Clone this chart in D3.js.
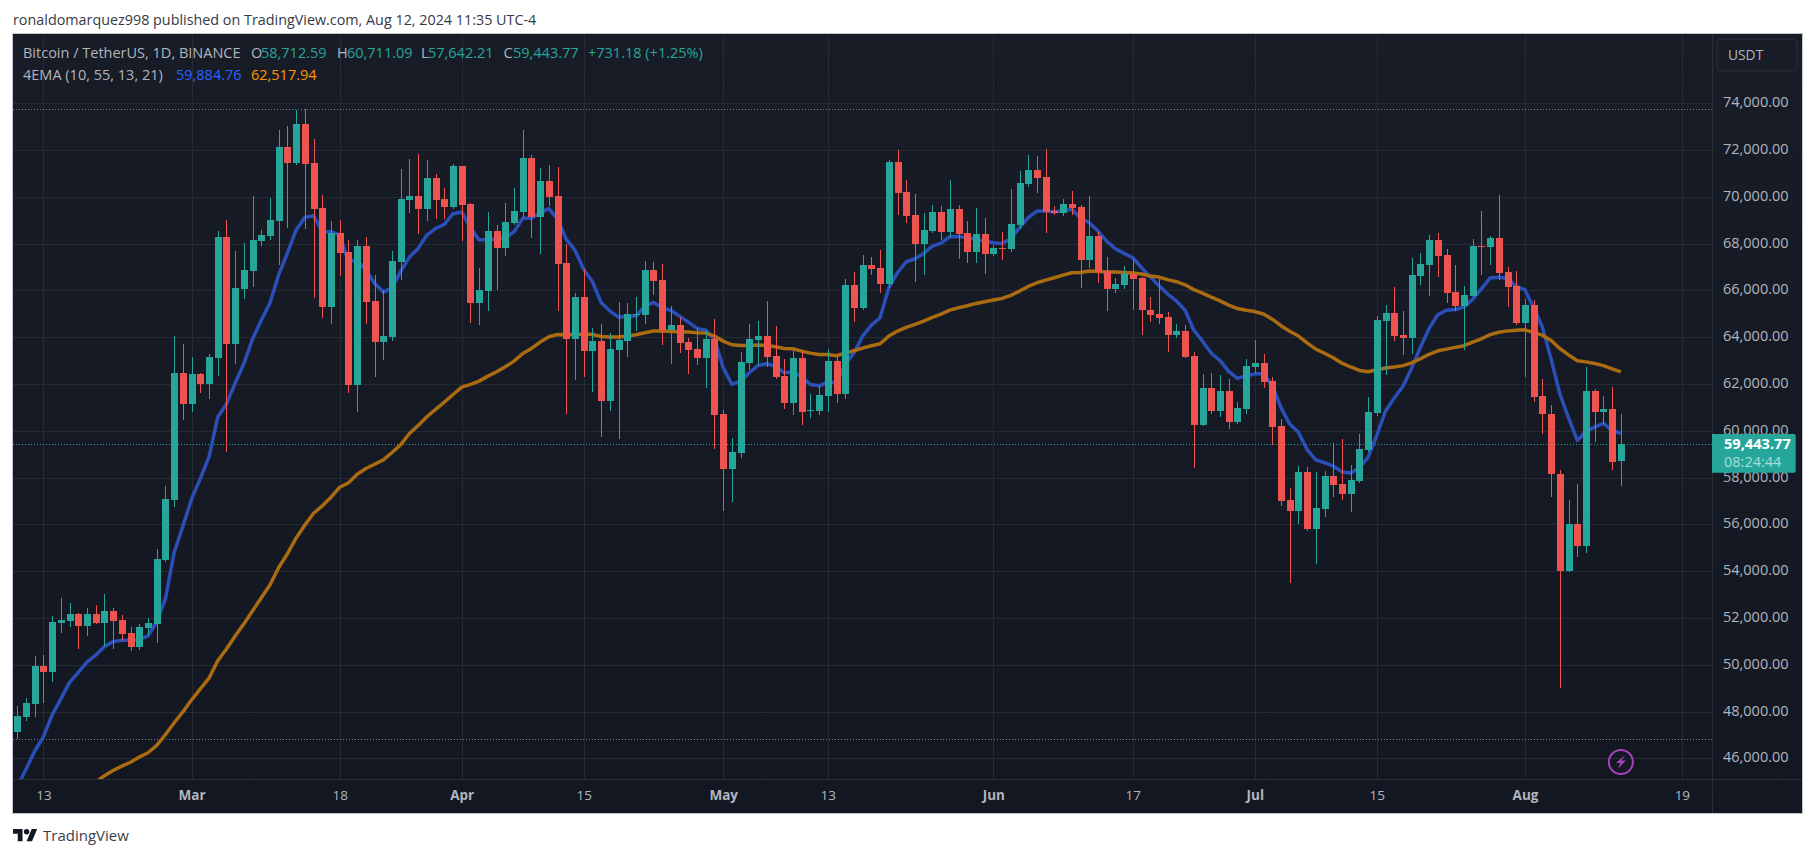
<!DOCTYPE html>
<html><head><meta charset="utf-8">
<style>
html,body{margin:0;padding:0;background:#fff;overflow:hidden}
svg{display:block}
text{font-family:"Open Sans",Lato,sans-serif}
</style>
<script src="https://cdn.jsdelivr.net/npm/d3@7/dist/d3.min.js"></script>
</head><body><div id="chart"></div>
<script>
const startDate = "2024-02-10";
const opens = [
47115,47764,48320,49951,49692,51787,51880,52157,51657,52157,
51787,52287,51917,51361,50749,51564,51731,54494,57034,62466,
61150,62429,62002,63115,68287,63708,66063,66823,68121,68325,
68973,72125,71439,73108,71439,69529,65284,68454,67638,61965,
67898,65544,63801,64004,67196,69847,70018,69462,70787,69890,
69548,71300,69676,65443,65957,68521,67795,68864,69334,71642,
69120,70659,70018,67154,63905,65700,63392,63819,61254,63434,
63819,64931,64931,66854,66427,64289,64503,63776,63477,63092,
63905,60698,58347,59031,62879,63862,64033,63178,62323,61168,
63092,60826,60826,61467,62964,61553,66213,65230,67068,66940,
66256,71471,70189,69206,67966,68521,69334,68479,69462,68436,
67624,68393,67538,67795,67752,68778,70531,71129,70830,69377,
69291,69676,69548,67282,68308,66812,66042,66213,66683,66512,
65152,64991,64859,64094,64270,63197,60257,61830,60845,61698,
60375,60933,62727,62903,62124,60213,57053,56582,58243,55818,
56670,58067,57729,57303,57861,59184,60757,64696,65035,64094,
63962,66608,67078,68151,67504,65932,65329,65755,67887,67843,
68240,66784,66181,64609,65373,61484,60730,58150,53996,56028,
55092,61712,60822,60913,58712.59];
const highs = [
48227,48598,50378,50415,52083,52844,52640,52213,52417,52547,
53029,52417,52120,51601,51731,51990,54939,57645,64060,63708,
63152,62466,63282,68528,69029,67694,68028,70030,68565,69956,
72867,73034,73720,73757,72477,70086,68973,69010,68158,68158,
68287,66674,66026,67694,71172,71600,71813,71557,70958,70360,
71386,71300,69718,66940,69334,68778,69719,70360,72839,71770,
71215,71343,71258,67966,65871,66897,64375,64546,64161,65486,
65443,65700,67239,67196,67111,65315,64845,63947,64375,64247,
64760,60869,59672,63349,64546,64674,65529,64460,63050,63434,
63349,61553,61895,63477,63135,66470,66769,67496,67410,67709,
71557,71984,70702,70104,69291,69633,69590,70702,69633,68949,
69505,69077,67923,68479,70317,71087,71770,71728,72027,69590,
69890,70232,69633,70018,68479,67410,66512,67026,67325,66560,
65711,66490,65079,64565,64520,63374,62433,62477,62389,62212,
61227,63065,63873,63286,62301,60492,57567,58508,58464,58243,
58287,59478,59655,58537,59860,61448,64902,65373,66137,65123,
67373,67593,68357,68445,67769,67078,66181,68195,69386,68313,
70063,66990,66828,65652,65593,62214,61119,58311,57055,57740,
62717,61781,61484,61872,60711.09];
const lows = [
46829,47597,47764,48375,49284,51379,51601,50693,51231,51731,
50823,50693,51009,50600,50638,51286,50952,54400,56756,60445,
60816,61632,61372,62336,59073,62837,65618,66155,67917,68158,
67082,68677,71365,68603,65655,64820,64561,66619,61613,60816,
64561,62299,63022,63856,66427,69291,68393,68949,69035,69035,
69500,68094,64589,64503,65101,65999,67453,68800,69077,68222,
67538,69590,65101,60698,62152,62280,61639,59715,60826,59630,
63135,64246,64546,65785,63648,62836,63306,62408,62793,61810,
59202,56594,56936,58817,62579,62793,62708,62200,60912,60655,
60228,60527,60655,60784,61168,61340,64631,65144,66641,65871,
66085,69206,68864,66341,66641,68450,68137,68265,67325,67154,
67154,66683,67453,67282,67624,68607,70403,70146,68436,69206,
69163,69206,66085,66940,66299,65101,65871,66042,65144,64076,
64653,64565,63374,63962,63100,58420,60200,60713,60595,60081,
60300,60713,62462,61830,59405,56788,53510,56024,55730,54289,
56318,57170,57053,56538,57773,59100,60639,62389,63829,63241,
63285,66226,65755,66564,65461,65123,63462,65700,66652,67078,
66461,65285,64520,62301,61227,59863,57169,49019,53950,54590,
54772,59521,60274,58311,57642.21];
const closes = [
47801,48357,49951,49692,51824,51935,52157,51657,52157,51787,
52287,51861,51305,50749,51601,51787,54512,57089,62466,61150,
62429,62002,63152,68287,63708,66100,66878,68158,68362,69010,
72125,71439,73108,71402,69474,65284,68454,67601,61965,67898,
65506,63801,64060,67249,69890,70018,69462,70787,69847,69548,
71300,69633,65443,65999,68521,67795,68906,69377,71642,69120,
70659,69975,67111,63905,65700,63392,63819,61254,63477,63862,
64973,64973,66854,66384,64289,64503,63733,63434,63092,63905,
60656,58347,59074,62921,63905,64033,63135,62280,61168,63092,
60784,60869,61510,62964,61553,66213,65230,67068,66897,66256,
71471,70146,69163,67966,68564,69334,68479,69462,68393,67624,
68393,67538,67795,67752,68821,70574,71129,70787,69334,69291,
69676,69505,67282,68308,66769,66042,66256,66683,66469,65144,
64947,64814,64094,64270,63153,60257,61830,60845,61698,60375,
60978,62771,62903,62080,60169,57009,56582,58243,55818,56715,
58067,57685,57303,57905,59228,60801,64726,65035,64050,63962,
66652,67122,68151,67460,65887,65329,65799,67887,67857,68240,
66740,66137,64609,65373,61448,60708,58150,53996,56028,55092,
61712,60822,60913,58676,59443.77];
const emaFast = [
44797,45539,46317,46929,47856,48542,49247,49673,50118,50415,
50786,50990,51045,51045,51082,51231,51842,52825,54809,55921,
57089,57961,58888,60593,61149,62039,62874,63930,64728,65469,
66674,67601,68584,69122,69196,68510,68510,68362,67231,67286,
66860,66304,65928,66113,66826,67424,67795,68365,68650,68821,
69277,69348,68678,68151,68180,68180,68251,68507,69077,69092,
69320,69491,69035,68180,67709,66897,66370,65472,65116,64859,
64888,64902,65330,65486,65258,65144,64902,64645,64375,64303,
63905,62693,61981,62123,62480,62793,62864,62765,62480,62522,
62309,61981,61924,62081,62052,62836,63335,64047,64517,64831,
66113,66755,67225,67353,67581,67895,68023,68294,68308,68251,
68180,68108,68037,68009,68208,68678,69106,69391,69391,69362,
69391,69462,69106,68892,68536,68108,67780,67581,67396,66968,
66578,66211,65843,65549,65152,64300,63829,63315,63006,62536,
62242,62345,62433,62433,61948,60992,60287,59934,59199,58758,
58640,58493,58243,58199,58420,58861,59816,60845,61404,61904,
62683,63565,64373,64961,65152,65182,65285,65623,66064,66534,
66564,66505,66167,66020,65255,64429,63059,61575,60548,59589,
59977,60160,60320,60023,59884.76];
const emaSlow = [
null,null,null,null,null,null,null,null,44705,44983,
45261,45483,45669,45835,46058,46243,46558,47022,47523,47986,
48505,48969,49432,50174,50674,51231,51750,52306,52862,53418,
54160,54753,55421,55977,56477,56793,57163,57590,57775,58146,
58387,58572,58758,59073,59407,59886,60228,60599,60912,61226,
61553,61867,61981,62123,62337,62522,62736,62978,63306,63520,
63791,64019,64118,64104,64118,64133,64118,64033,64004,64004,
64047,64104,64190,64261,64261,64247,64232,64218,64190,64175,
64047,63833,63677,63648,63648,63662,63648,63591,63520,63506,
63406,63320,63263,63263,63206,63320,63420,63534,63634,63719,
64047,64261,64418,64546,64688,64845,64988,65159,65258,65344,
65444,65515,65586,65657,65786,65971,66170,66327,66441,66541,
66655,66755,66769,66826,66812,66783,66783,66769,66740,66698,
66612,66569,66461,66372,66240,66034,65887,65711,65549,65373,
65226,65152,65094,64991,64770,64491,64256,64050,63756,63491,
63315,63124,62889,62727,62580,62521,62609,62683,62727,62786,
62903,63080,63271,63418,63491,63565,63638,63785,63932,64109,
64212,64270,64300,64314,64197,64087,63858,63516,63242,62991,
62945,62877,62785,62648,62517.94];
const priceTicks = [74000,72000,70000,68000,66000,64000,62000,60000,58000,56000,54000,52000,50000,48000,46000];
const dateTicks = ["2024-02-13","2024-03-01","2024-03-18","2024-04-01","2024-04-15","2024-05-01","2024-05-13","2024-06-01","2024-06-17","2024-07-01","2024-07-15","2024-08-01","2024-08-19"];
const dateTickLabels = ["13","Mar","18","Apr","15","May","13","Jun","17","Jul","15","Aug","19"];
const boldLabels = ["Mar","Apr","May","Jun","Jul","Aug"];
const visibleHigh = 73757;
const visibleLow = 46829;
const lastPrice = 59443.77;
const publishedLine = "ronaldomarquez998 published on TradingView.com, Aug 12, 2024 11:35 UTC-4";
const symbolLabel = "Bitcoin / TetherUS, 1D, BINANCE";
const indicatorLabel = "4EMA (10, 55, 13, 21)";
const currency = "USDT";
const countdown = "08:24:44";

const W = 1815, H = 858;
const fmt2 = d3.format(",.2f");
const C = {up:"#26a69a",down:"#ef5350",grid:"#262a35",axis:"#2a2e39",text:"#b2b5be",frame:"#c3c5cc",fast:"#2b4fb9",slow:"#ab6b10"};
const F = {l:13,t:34,r:1712,b:779.5,R:1802,B:813};
const FONT = '"Open Sans",Lato,sans-serif';

const parse = d3.utcParse("%Y-%m-%d");
const t0 = parse(startDate);
const dates = opens.map((_,i)=>d3.utcDay.offset(t0,i));
const x = d3.scaleUtc().domain([t0,d3.utcDay.offset(t0,184)]).range([17.3,17.3+184*8.715]);
const y = d3.scaleLinear().domain([46000,74000]).range([758.4,103.2]);

const svg = d3.select("#chart").append("svg").attr("width",W).attr("height",H).attr("viewBox",`0 0 ${W} ${H}`);
const defs = svg.append("defs");
const g = defs.append("linearGradient").attr("id","bg").attr("x1",0).attr("y1",0).attr("x2",0).attr("y2",1);
g.append("stop").attr("offset",0).attr("stop-color","#181c27");
g.append("stop").attr("offset",1).attr("stop-color","#131722");
defs.append("clipPath").attr("id","plot").append("rect").attr("x",F.l).attr("y",F.t).attr("width",F.r-F.l).attr("height",F.b-F.t);

svg.append("rect").attr("x",F.l).attr("y",F.t).attr("width",F.R-F.l).attr("height",F.B-F.t).attr("fill","url(#bg)");

// grid
const grid = svg.append("g").attr("stroke",C.grid).attr("stroke-width",1).attr("shape-rendering","crispEdges");
grid.selectAll("line.h").data(priceTicks).join("line").attr("x1",F.l).attr("x2",F.r)
  .attr("y1",d=>Math.round(y(d))+.5).attr("y2",d=>Math.round(y(d))+.5);
grid.selectAll("line.v").data(dateTicks).join("line").attr("class","v").attr("y1",F.t).attr("y2",F.b)
  .attr("x1",d=>Math.round(x(parse(d)))+.5).attr("x2",d=>Math.round(x(parse(d)))+.5);

// hi / lo / last lines
const dotted = svg.append("g").attr("clip-path","url(#plot)");
[[visibleHigh,"#7d808a"],[visibleLow,"#7d808a"],[lastPrice,C.up]].forEach(([p,c])=>{
  dotted.append("line").attr("x1",F.l).attr("x2",F.r).attr("y1",Math.round(y(p))+.5).attr("y2",Math.round(y(p))+.5)
    .attr("stroke",c).attr("stroke-width",1).attr("stroke-dasharray","1 2");
});

// EMA lines
const plot = svg.append("g").attr("clip-path","url(#plot)");
const lineGen = d3.line().defined(d=>d[1]!=null).x(d=>x(d[0])).y(d=>y(d[1]));
[[emaFast,C.fast],[emaSlow,C.slow]].forEach(([s,c])=>{
  plot.append("path").datum(s.map((v,i)=>[dates[i],v])).attr("d",lineGen).attr("fill","none")
    .attr("stroke",c).attr("stroke-width",3.5).attr("stroke-linejoin","round");
});

// candles
const candles = opens.map((o,i)=>({d:dates[i],o,h:highs[i],l:lows[i],c:closes[i]}));
const cg = plot.append("g").attr("shape-rendering","crispEdges");
const col = d=>d.c>=d.o?C.up:C.down;
cg.selectAll("line").data(candles).join("line")
  .attr("x1",d=>Math.round(x(d.d))+.5).attr("x2",d=>Math.round(x(d.d))+.5)
  .attr("y1",d=>y(d.h)).attr("y2",d=>y(d.l)).attr("stroke",col).attr("stroke-width",1);
cg.selectAll("rect").data(candles).join("rect")
  .attr("x",d=>Math.round(x(d.d))-3).attr("width",7)
  .attr("y",d=>Math.round(y(Math.max(d.o,d.c))))
  .attr("height",d=>Math.max(1,Math.round(y(Math.min(d.o,d.c)))-Math.round(y(Math.max(d.o,d.c)))))
  .attr("fill",col);

// axes dividers
const dv = svg.append("g").attr("stroke",C.axis).attr("shape-rendering","crispEdges");
dv.append("line").attr("x1",F.l).attr("x2",F.R).attr("y1",779.5).attr("y2",779.5);
dv.append("line").attr("x1",1712.5).attr("x2",1712.5).attr("y1",F.t).attr("y2",F.B);

// price axis
const yAxis = d3.axisRight(y).tickValues(priceTicks).tickSize(0).tickPadding(0).tickFormat(fmt2);
const ya = svg.append("g").attr("transform","translate(1723,-1.5)").call(yAxis);
ya.select(".domain").remove();
ya.selectAll("text").attr("fill",C.text).attr("font-size",14.5).attr("font-family",FONT).attr("x",0).attr("dy","0.35em");

// time axis
const xAxis = d3.axisBottom(x).tickValues(dateTicks.map(parse)).tickSize(0).tickPadding(0)
  .tickFormat(d=>dateTickLabels[dateTicks.indexOf(d3.utcFormat("%Y-%m-%d")(d))]);
const xa = svg.append("g").attr("transform","translate(0,790)").call(xAxis);
xa.select(".domain").remove();
xa.selectAll("text").attr("fill",C.text).attr("font-size",13.5).attr("font-family",FONT)
  .attr("font-weight",function(){return boldLabels.includes(this.textContent)?700:400}).attr("y",0).attr("dy","0.71em");

// frame
svg.append("rect").attr("x",F.l-.5).attr("y",F.t-.5).attr("width",F.R-F.l+1).attr("height",F.B-F.t+1)
  .attr("fill","none").attr("stroke",C.frame).attr("stroke-width",1).attr("shape-rendering","crispEdges");

// publish header
svg.append("text").attr("x",13).attr("y",24.8).attr("font-size",14.35).attr("fill","#363a45").text(publishedLine);

// legend
function runs(yy,items){items.forEach(([tx,xx,c])=>svg.append("text").attr("x",xx).attr("y",yy).attr("font-size",14.5).attr("fill",c).text(tx));}
const last = opens.length-1;
runs(58.2,[[symbolLabel,23,C.text],["O",251,C.text],[fmt2(opens[last]),261,C.up],["H",337,C.text],[fmt2(highs[last]),347,C.up],
 ["L",421,C.text],[fmt2(lows[last]),428,C.up],["C",503.5,C.text],[fmt2(closes[last]),513,C.up],
 ["+731.18 (+1.25%)",588,C.up]]);
runs(80,[[indicatorLabel,23,C.text],[fmt2(emaFast[last]),176,"#2962ff"],[fmt2(emaSlow[last]),251,"#ff9800"]]);

// currency button
svg.append("rect").attr("x",1717).attr("y",39).attr("width",80).attr("height",32).attr("rx",4)
  .attr("fill","#181c27").attr("stroke",C.axis).attr("stroke-width",1);
svg.append("text").attr("x",1728).attr("y",60).attr("font-size",13.8).attr("fill",C.text).text(currency);

// last price tag
svg.append("path").attr("d","M1712,434H1793.7a2,2 0 0 1 2,2V470.7a2,2 0 0 1 -2,2H1712Z").attr("fill",C.up);
svg.append("text").attr("x",1724).attr("y",449.2).attr("font-size",14.6).attr("font-weight",700).attr("fill","#fff").text(fmt2(lastPrice));
svg.append("text").attr("x",1724).attr("y",467).attr("font-size",14.5).attr("fill","#a8ddd8").text(countdown);

// lightning badge
const bx = x(dates[last]), by = 762;
svg.append("circle").attr("cx",bx).attr("cy",by).attr("r",12).attr("fill","none").attr("stroke","#a83fbb").attr("stroke-width",2);
svg.append("path").attr("transform",`translate(${bx},${by})`).attr("d","M4.5,-7 L-5,1 L-0.5,1 L-3,7 L5,-1.5 L0.5,-1.5 Z")
  .attr("fill","#a83fbb");

// logo
const logo = svg.append("g").attr("transform","translate(13,826.3) scale(.68)").attr("fill","#131722");
logo.append("path").attr("d","M14 22H7V11H0V4h14v18zM28 22h-8l7.5-18h8L28 22z");
logo.append("circle").attr("cx",20).attr("cy",8).attr("r",4);
svg.append("text").attr("x",43).attr("y",841).attr("font-size",15).attr("fill","#3a3e49").text("TradingView");
</script></body></html>
